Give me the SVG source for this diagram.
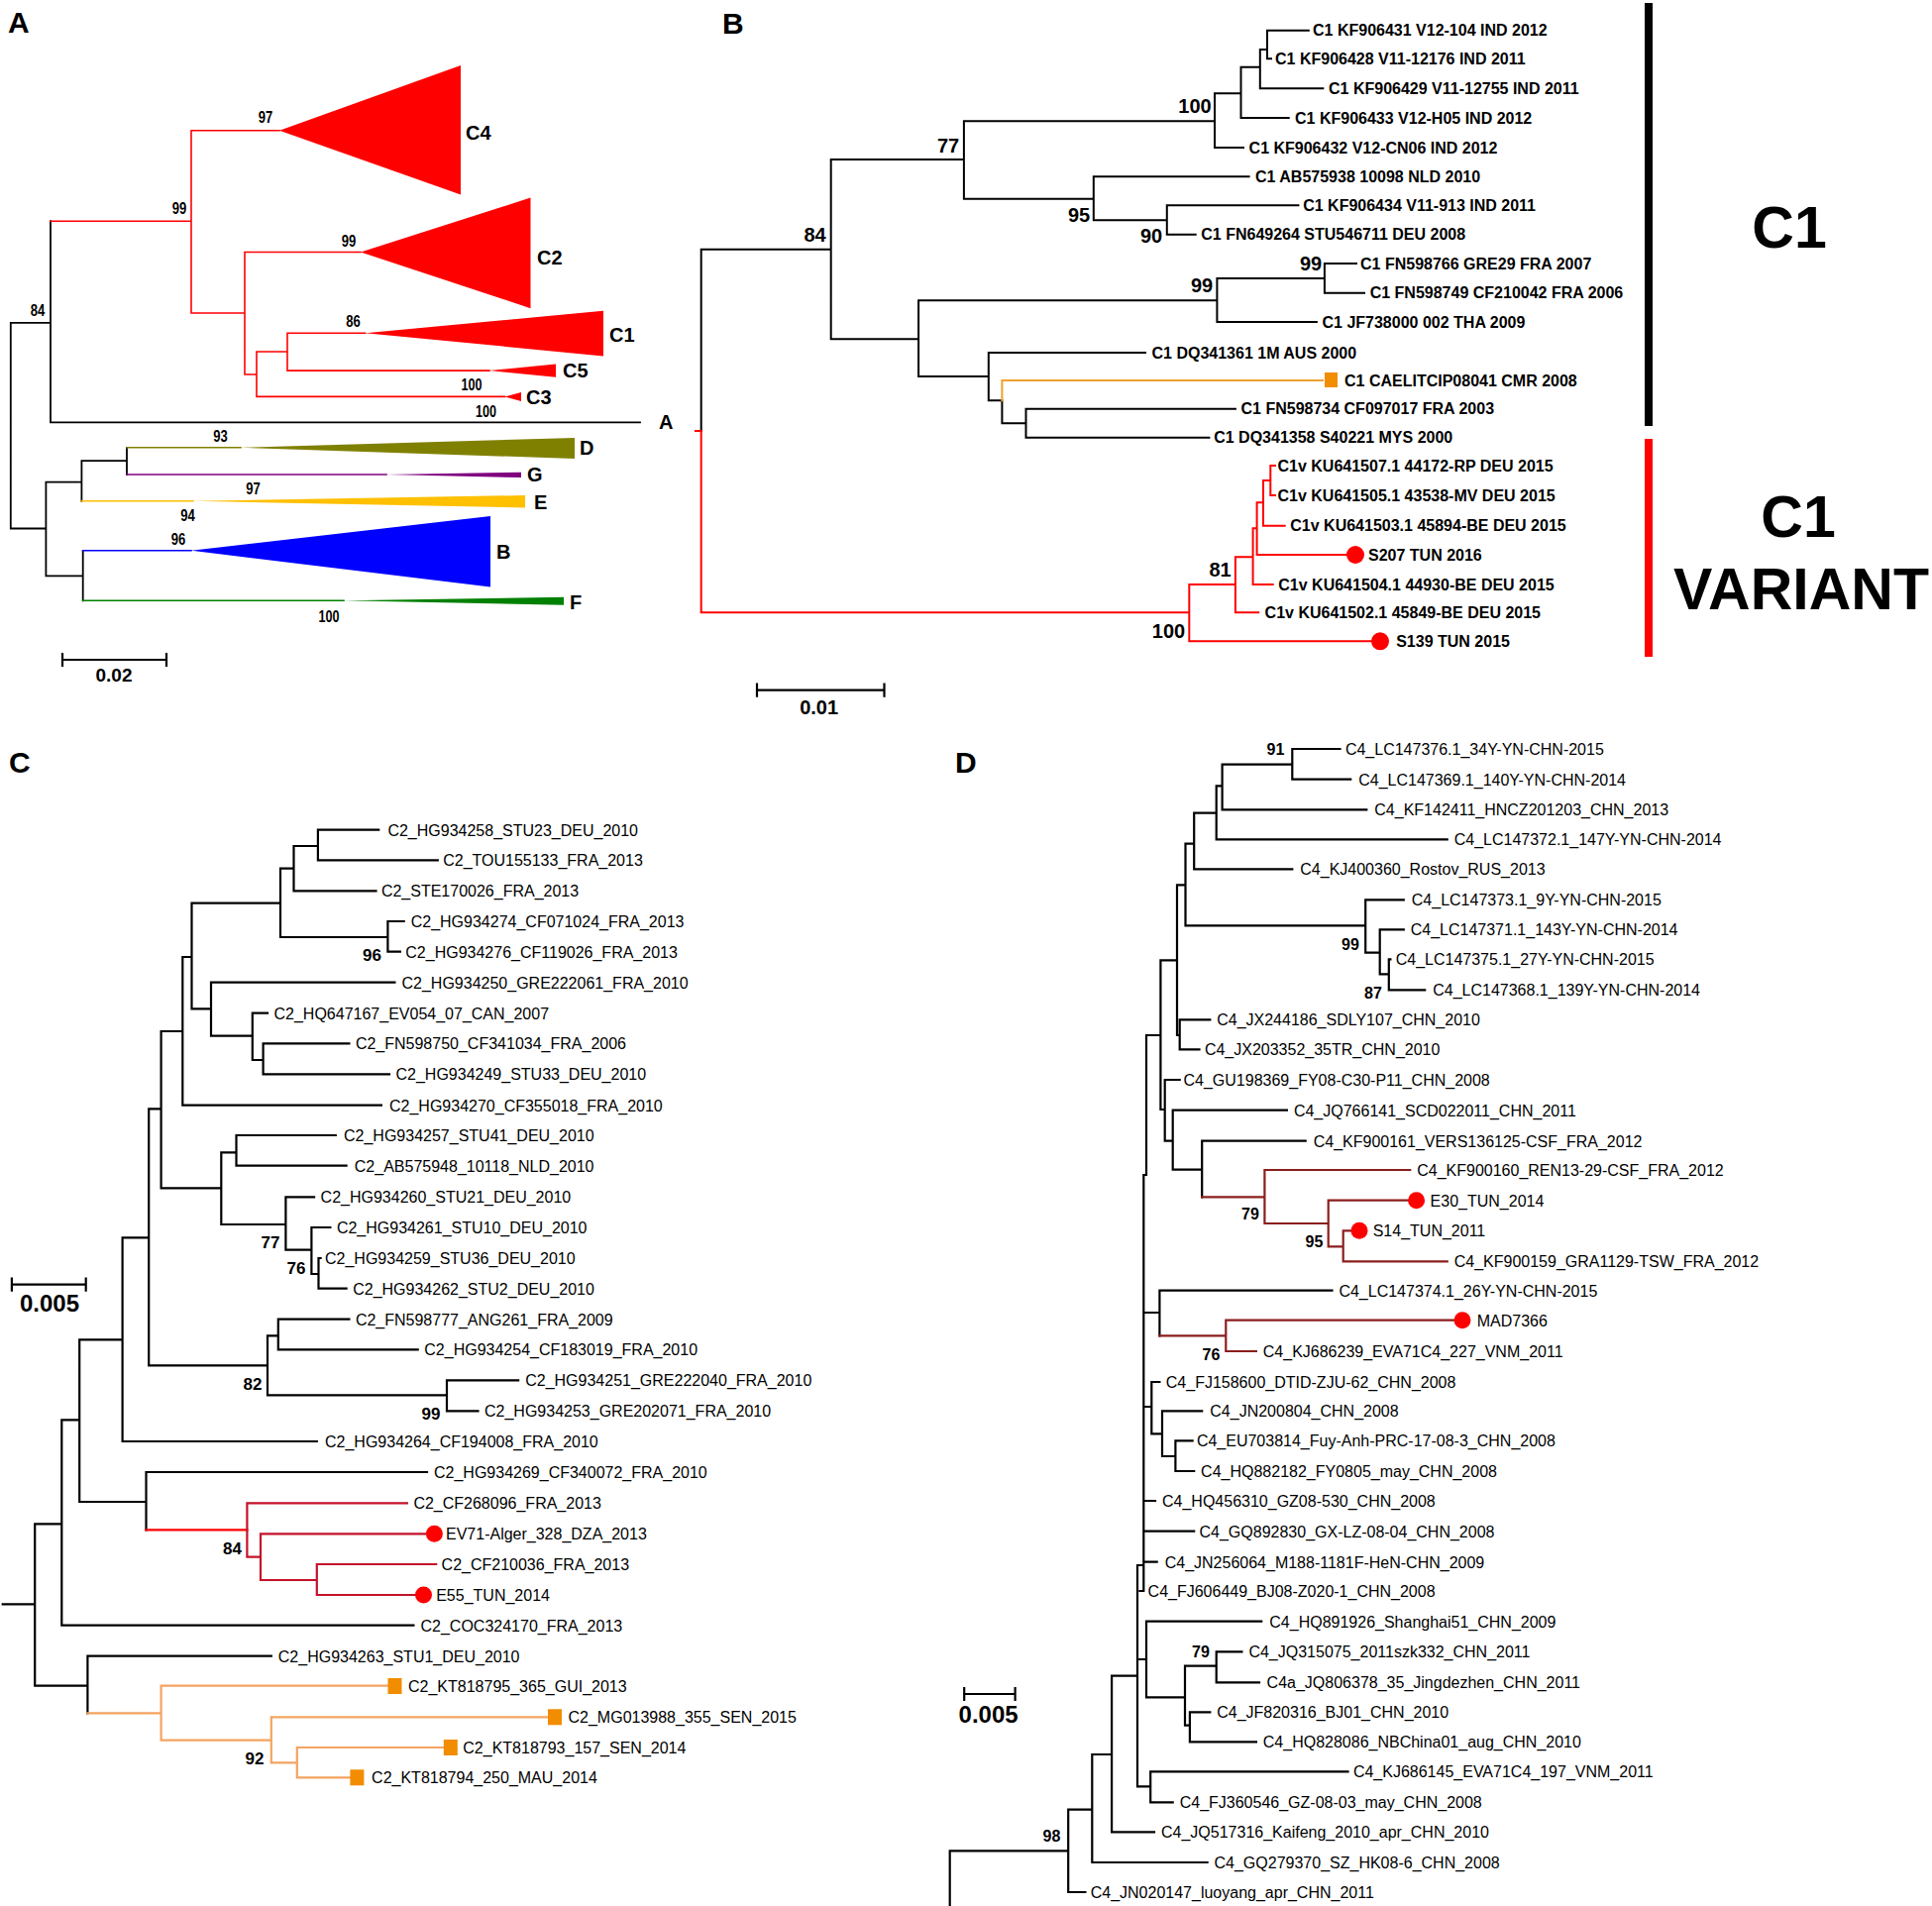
<svg xmlns="http://www.w3.org/2000/svg" width="1950" height="1924" viewBox="0 0 1950 1924">
<style>
text{font-family:"Liberation Sans",Arial,sans-serif;fill:#000}
.pl{font-size:30px;font-weight:bold}
.br{fill:none;stroke:#000;stroke-width:2.2;stroke-linecap:square}
.thin{stroke-width:1.8}
.bw{stroke-width:2}
.cl{font-size:20px;font-weight:bold}
.ba{font-size:16.5px;font-weight:bold;text-anchor:middle}
.bb{font-size:20px;font-weight:bold;text-anchor:middle}
.bc{font-size:17px;font-weight:bold;text-anchor:middle}
.bd{font-size:16px;font-weight:bold;text-anchor:middle}
.lb{font-size:16px;font-weight:bold}
.ln{font-size:16px}
.sc{font-weight:bold;text-anchor:middle}
.dot{fill:#FF0000}
.sq{fill:#F28C00}
.big{font-size:59px;font-weight:bold;text-anchor:middle}
</style>

<!-- ================= PANEL A ================= -->
<g id="panelA">
<text class="pl" x="8" y="33">A</text>
<g id="A-connectors">
<path class="br thin" d="M10.8,325.9V533.5M10.8,325.9H51M51,223.2V426.3M51,426.3H646M10.8,533.5H46.4M46.4,486.6V581.3M46.4,486.6H82.4M82.4,465.2V505.8M82.4,465.2H128M128,451.8V479M46.4,581.3H83.7M83.7,555.8V606.3"/>
<path class="br" style="stroke:#FF0000;stroke-width:1.6" d="M51,223.2H193M193,131.7V316M193,131.7H282M193,316H247M247,254.5V378M247,254.5H364M247,378H259M259,355V400.4M259,355H290M290,336.2V374.1M290,336.2H368.6M290,374.1H494M259,400.4H509.5"/>
<path class="br" style="stroke:#808000;stroke-width:1.6" d="M128,451.8H243"/>
<path class="br" style="stroke:#800080;stroke-width:1.6" d="M128,479H390"/>
<path class="br" style="stroke:#FFC000;stroke-width:1.6" d="M82.4,505.8H195"/>
<path class="br" style="stroke:#0000FF;stroke-width:1.6" d="M83.7,555.8H193"/>
<path class="br" style="stroke:#008000;stroke-width:1.6" d="M83.7,606.3H347"/>
</g>
<g id="A-C4"><polygon points="282,131.7 465,66 465,196.4" fill="#FF0000"/><text class="cl" x="470" y="141">C4</text></g>
<g id="A-C2"><polygon points="364,254.5 535.5,199.6 535.5,311.2" fill="#FF0000"/><text class="cl" x="542" y="267">C2</text></g>
<g id="A-C1"><polygon points="368.6,336.2 609,313.8 609,359.4" fill="#FF0000"/><text class="cl" x="615" y="345">C1</text></g>
<g id="A-C5"><polygon points="494,374.1 561,367.4 561,380.8" fill="#FF0000"/><text class="cl" x="568" y="381">C5</text></g>
<g id="A-C3"><polygon points="509.5,400.4 526,396 526,405" fill="#FF0000"/><text class="cl" x="531" y="408">C3</text></g>
<g id="A-A"><text class="cl" x="665" y="433">A</text></g>
<g id="A-D"><polygon points="243,451.8 580,442 580,463" fill="#808000"/><text class="cl" x="585" y="459">D</text></g>
<g id="A-G"><polygon points="390,479 526,476.8 526,482.1" fill="#800080"/><text class="cl" x="532" y="486">G</text></g>
<g id="A-E"><polygon points="195,505.8 530,500 530,512.5" fill="#FFC000"/><text class="cl" x="539" y="514">E</text></g>
<g id="A-B"><polygon points="193,555.8 495,521 495,592.4" fill="#0000FF"/><text class="cl" x="501" y="564">B</text></g>
<g id="A-F"><polygon points="347,606.3 569,602.7 569,610.7" fill="#008000"/><text class="cl" x="575" y="615">F</text></g>
<g id="A-bootstrap">
<text class="ba" x="38" y="318.5" textLength="14.5" lengthAdjust="spacingAndGlyphs">84</text>
<text class="ba" x="181" y="215.5" textLength="14.5" lengthAdjust="spacingAndGlyphs">99</text>
<text class="ba" x="268" y="124" textLength="14.5" lengthAdjust="spacingAndGlyphs">97</text>
<text class="ba" x="352" y="249" textLength="14.5" lengthAdjust="spacingAndGlyphs">99</text>
<text class="ba" x="356.5" y="329.5" textLength="14.5" lengthAdjust="spacingAndGlyphs">86</text>
<text class="ba" x="476" y="393.5" textLength="21" lengthAdjust="spacingAndGlyphs">100</text>
<text class="ba" x="490.5" y="421" textLength="21" lengthAdjust="spacingAndGlyphs">100</text>
<text class="ba" x="222.5" y="445.5" textLength="14.5" lengthAdjust="spacingAndGlyphs">93</text>
<text class="ba" x="255.5" y="499" textLength="14.5" lengthAdjust="spacingAndGlyphs">97</text>
<text class="ba" x="189.5" y="526" textLength="14.5" lengthAdjust="spacingAndGlyphs">94</text>
<text class="ba" x="180" y="549.5" textLength="14.5" lengthAdjust="spacingAndGlyphs">96</text>
<text class="ba" x="332" y="627.5" textLength="21" lengthAdjust="spacingAndGlyphs">100</text>
</g>
<g id="A-scale">
<path class="br" d="M63,666H168M63,660V672M168,660V672"/>
<text class="sc" x="115" y="688" font-size="19">0.02</text>
</g>
</g>

<!-- ================= PANEL B ================= -->
<g id="panelB">
<text class="pl" x="729" y="34">B</text>
<g id="B-connectors">
<path class="br bw" d="M707.7,251.7V435M707.7,251.7H838.7M838.7,161V342.3M838.7,161H972.9M972.9,122.3V200.7M972.9,122.3H1226M1226,94.3V149M1226,149H1255M1226,94.3H1252.5M1252.5,67.7V119M1252.5,119H1300.7M1252.5,67.7H1271.8M1271.8,50V89.3M1271.8,89.3H1335.3M1271.8,50H1279M1279,30.7V59.3M1279,30.7H1320.8M1279,59.3H1283M972.9,200.7H1103.8M1103.8,178.3V222.3M1103.8,178.3H1260.6M1103.8,222.3H1177.8M1177.8,207.3V236.7M1177.8,207.3H1310.4M1177.8,236.7H1206.7M838.7,342.3H927.1M927.1,303.3V380M927.1,303.3H1228.4M1228.4,281V325M1228.4,281H1336.9M1336.9,266V295.7M1336.9,266H1369M1336.9,295.7H1377M1228.4,325H1328.9M927.1,380H997.8M997.8,356V404.3M997.8,356H1156M997.8,404.3H1011.4M1011.4,404.3V427.3M1011.4,427.3H1035.5M1035.5,412.7V441.7M1035.5,412.7H1246.9M1035.5,441.7H1220.4"/>
<path class="br" style="stroke:#F0A030;stroke-width:2" d="M1011.4,404.3V384H1335"/>
<path class="br bw" style="stroke:#FF0000" d="M702,435H707.7M707.7,435V618.3H1200.3M1200.3,590V647.3M1200.3,647.3H1385M1200.3,590H1246.9M1246.9,562.3V618.3M1246.9,618.3H1270.2M1246.9,562.3H1264.6M1264.6,533.3V590M1264.6,590H1284.7M1264.6,533.3H1268.6M1268.6,507.3V560M1268.6,560H1359M1268.6,507.3H1275M1275,485V530.7M1275,530.7H1296.7M1275,485H1282.3M1282.3,470V500M1282.3,470H1287M1282.3,500H1287"/>
</g>
<g id="B-l1"><text class="lb" x="1325" y="36.4">C1 KF906431 V12-104 IND 2012</text></g>
<g id="B-l2"><text class="lb" x="1287" y="65">C1 KF906428 V11-12176 IND 2011</text></g>
<g id="B-l3"><text class="lb" x="1341" y="95">C1 KF906429 V11-12755 IND 2011</text></g>
<g id="B-l4"><text class="lb" x="1307" y="124.7">C1 KF906433 V12-H05 IND 2012</text></g>
<g id="B-l5"><text class="lb" x="1260.6" y="154.7">C1 KF906432 V12-CN06 IND 2012</text></g>
<g id="B-l6"><text class="lb" x="1267" y="184">C1 AB575938 10098 NLD 2010</text></g>
<g id="B-l7"><text class="lb" x="1315.2" y="213">C1 KF906434 V11-913 IND 2011</text></g>
<g id="B-l8"><text class="lb" x="1212.3" y="242.4">C1 FN649264 STU546711 DEU 2008</text></g>
<g id="B-l9"><text class="lb" x="1373" y="271.7">C1 FN598766 GRE29 FRA 2007</text></g>
<g id="B-l10"><text class="lb" x="1382.7" y="301.4">C1 FN598749 CF210042 FRA 2006</text></g>
<g id="B-l11"><text class="lb" x="1334.5" y="330.7">C1 JF738000 002 THA 2009</text></g>
<g id="B-l12"><text class="lb" x="1162.5" y="361.7">C1 DQ341361 1M AUS 2000</text></g>
<g id="B-l13"><rect class="sq" x="1337" y="376" width="13" height="15"/><text class="lb" x="1357" y="389.7">C1 CAELITCIP08041 CMR 2008</text></g>
<g id="B-l14"><text class="lb" x="1252.5" y="418.4">C1 FN598734 CF097017 FRA 2003</text></g>
<g id="B-l15"><text class="lb" x="1225.2" y="447.4">C1 DQ341358 S40221 MYS 2000</text></g>
<g id="B-l16"><text class="lb" x="1289.5" y="475.7">C1v KU641507.1 44172-RP DEU 2015</text></g>
<g id="B-l17"><text class="lb" x="1289.5" y="505.7">C1v KU641505.1 43538-MV DEU 2015</text></g>
<g id="B-l18"><text class="lb" x="1302.3" y="536.4">C1v KU641503.1 45894-BE DEU 2015</text></g>
<g id="B-l19"><circle class="dot" cx="1368" cy="560" r="9"/><text class="lb" x="1381" y="565.7">S207 TUN 2016</text></g>
<g id="B-l20"><text class="lb" x="1290.3" y="595.7">C1v KU641504.1 44930-BE DEU 2015</text></g>
<g id="B-l21"><text class="lb" x="1276.6" y="624">C1v KU641502.1 45849-BE DEU 2015</text></g>
<g id="B-l22"><circle class="dot" cx="1393" cy="647.3" r="9"/><text class="lb" x="1409.2" y="653">S139 TUN 2015</text></g>
<g id="B-bootstrap">
<text class="bb" x="822.5" y="243.7">84</text>
<text class="bb" x="957" y="153.7">77</text>
<text class="bb" x="1206" y="113.7">100</text>
<text class="bb" x="1089" y="223.7">95</text>
<text class="bb" x="1162" y="245.3">90</text>
<text class="bb" x="1213" y="295.3">99</text>
<text class="bb" x="1323" y="272.7">99</text>
<text class="bb" x="1231.5" y="582">81</text>
<text class="bb" x="1179.5" y="643.7">100</text>
</g>
<g id="B-group-C1"><path d="M1664,3V430" stroke="#000" stroke-width="8"/><text class="big" x="1806" y="250">C1</text></g>
<g id="B-group-C1v"><path d="M1664,443V663" stroke="#FF0000" stroke-width="8"/><text class="big" x="1815" y="541.7">C1</text><text class="big" x="1818" y="615">VARIANT</text></g>
<g id="B-scale">
<path class="br" d="M764,696.7H892.5M764,690.7V702.7M892.5,690.7V702.7"/>
<text class="sc" x="826.6" y="721" font-size="20">0.01</text>
</g>
</g>

<!-- ================= PANEL C ================= -->
<g id="panelC">
<text class="pl" x="9" y="780">C</text>
<g id="C-connectors">
<path class="br" d="M2.7,1619.3H35.2M35.2,1538.3V1701.7M35.2,1538.3H62.3M62.3,1433.3V1640.7M62.3,1640.7H417.4M62.3,1433.3H80.2M80.2,1352.3V1516M80.2,1352.3H123.6M123.6,1249.3V1455M123.6,1455H319.8M123.6,1249.3H150.2M150.2,1119.3V1378.3M150.2,1119.3H162.6M162.6,1041V1199.3M162.6,1041H184.3M184.3,966V1115.7M184.3,1115.7H384.9M184.3,966H193.5M193.5,911.7V1018.3M193.5,911.7H283M283,876.7V946M283,876.7H296.5M296.5,854V899.3M296.5,899.3H379.5M296.5,854H320.9M320.9,837.7V868.3M320.9,837.7H382.2M320.9,868.3H441.8M283,946H391.4M391.4,930V960.7M391.4,930H407.7M391.4,960.7H403.9M193.5,1018.3H213M213,991.7V1045.7M213,991.7H398.4M213,1045.7H254.8M254.8,1022.7V1070M254.8,1022.7H270M254.8,1070H265.6M265.6,1053.3V1084.3M265.6,1053.3H352.4M265.6,1084.3H393M162.6,1199.3H223.3M223.3,1163.3V1236M223.3,1163.3H238.5M238.5,1146V1176.7M238.5,1146H338.8M238.5,1176.7H349.6M223.3,1236H288.4M288.4,1208.3V1261.7M288.4,1208.3H317.1M288.4,1261.7H314.4M314.4,1239V1286M314.4,1239H333.4M314.4,1286H321.5M321.5,1270V1300.7M321.5,1270H323.6M321.5,1300.7H349.6M150.2,1378.3H270M270,1348.3V1408.3M270,1348.3H280.8M280.8,1331.7V1362.3M280.8,1331.7H352.4M280.8,1362.3H421.7M270,1408.3H451M451,1393.3V1424.3M451,1393.3H523.1M451,1424.3H482.5M80.2,1516H147.5M147.5,1486V1544.3M147.5,1486H431M35.2,1701.7H88.4M88.4,1671.7V1729.3M88.4,1671.7H273.8"/>
<path class="br" style="stroke:#FF0000" d="M147.5,1544.3H249.4"/>
<path class="br" style="stroke:#C4122A" d="M249.4,1517.3V1571.7M249.4,1517.3H410.9M249.4,1571.7H263M263,1548.3V1595M263,1548.3H430M263,1595H319.8M319.8,1579V1610M319.8,1579H440.2M319.8,1610H420"/>
<path class="br" style="stroke:#F4A460" d="M88.4,1729.3H162.6M162.6,1701.7V1756.7M162.6,1701.7H391M162.6,1756.7H273.8M273.8,1733.3V1779.3M273.8,1733.3H553M273.8,1779.3H299.8M299.8,1764V1794.3M299.8,1764H447M299.8,1794.3H353"/>
</g>
<g id="C-l1"><text class="ln" x="391.4" y="843.5">C2_HG934258_STU23_DEU_2010</text></g>
<g id="C-l2"><text class="ln" x="447.2" y="874.1">C2_TOU155133_FRA_2013</text></g>
<g id="C-l3"><text class="ln" x="384.9" y="905.1">C2_STE170026_FRA_2013</text></g>
<g id="C-l4"><text class="ln" x="414.7" y="935.8">C2_HG934274_CF071024_FRA_2013</text></g>
<g id="C-l5"><text class="ln" x="409.3" y="966.5">C2_HG934276_CF119026_FRA_2013</text></g>
<g id="C-l6"><text class="ln" x="405.5" y="997.5">C2_HG934250_GRE222061_FRA_2010</text></g>
<g id="C-l7"><text class="ln" x="276.5" y="1028.5">C2_HQ647167_EV054_07_CAN_2007</text></g>
<g id="C-l8"><text class="ln" x="358.9" y="1059.1">C2_FN598750_CF341034_FRA_2006</text></g>
<g id="C-l9"><text class="ln" x="399.5" y="1090.1">C2_HG934249_STU33_DEU_2010</text></g>
<g id="C-l10"><text class="ln" x="393" y="1121.5">C2_HG934270_CF355018_FRA_2010</text></g>
<g id="C-l11"><text class="ln" x="347" y="1151.8">C2_HG934257_STU41_DEU_2010</text></g>
<g id="C-l12"><text class="ln" x="357.8" y="1182.5">C2_AB575948_10118_NLD_2010</text></g>
<g id="C-l13"><text class="ln" x="323.6" y="1214.1">C2_HG934260_STU21_DEU_2010</text></g>
<g id="C-l14"><text class="ln" x="339.9" y="1244.8">C2_HG934261_STU10_DEU_2010</text></g>
<g id="C-l15"><text class="ln" x="328" y="1275.8">C2_HG934259_STU36_DEU_2010</text></g>
<g id="C-l16"><text class="ln" x="356.2" y="1306.5">C2_HG934262_STU2_DEU_2010</text></g>
<g id="C-l17"><text class="ln" x="358.9" y="1337.5">C2_FN598777_ANG261_FRA_2009</text></g>
<g id="C-l18"><text class="ln" x="428.3" y="1368.1">C2_HG934254_CF183019_FRA_2010</text></g>
<g id="C-l19"><text class="ln" x="530.2" y="1399.1">C2_HG934251_GRE222040_FRA_2010</text></g>
<g id="C-l20"><text class="ln" x="489" y="1430.1">C2_HG934253_GRE202071_FRA_2010</text></g>
<g id="C-l21"><text class="ln" x="328" y="1460.8">C2_HG934264_CF194008_FRA_2010</text></g>
<g id="C-l22"><text class="ln" x="438" y="1491.8">C2_HG934269_CF340072_FRA_2010</text></g>
<g id="C-l23"><text class="ln" x="417.4" y="1523.1">C2_CF268096_FRA_2013</text></g>
<g id="C-l24"><circle class="dot" cx="438.4" cy="1548.3" r="8.5"/><text class="ln" x="450" y="1554.1">EV71-Alger_328_DZA_2013</text></g>
<g id="C-l25"><text class="ln" x="445.6" y="1584.8">C2_CF210036_FRA_2013</text></g>
<g id="C-l26"><circle class="dot" cx="427.5" cy="1610" r="8.5"/><text class="ln" x="440.2" y="1615.8">E55_TUN_2014</text></g>
<g id="C-l27"><text class="ln" x="424.5" y="1646.5">C2_COC324170_FRA_2013</text></g>
<g id="C-l28"><text class="ln" x="280.8" y="1677.5">C2_HG934263_STU1_DEU_2010</text></g>
<g id="C-l29"><rect class="sq" x="391.5" y="1694" width="14" height="16"/><text class="ln" x="412" y="1707.5">C2_KT818795_365_GUI_2013</text></g>
<g id="C-l30"><rect class="sq" x="553" y="1725.3" width="14" height="16"/><text class="ln" x="573.5" y="1739.1">C2_MG013988_355_SEN_2015</text></g>
<g id="C-l31"><rect class="sq" x="447.8" y="1756" width="14" height="16"/><text class="ln" x="467.3" y="1769.8">C2_KT818793_157_SEN_2014</text></g>
<g id="C-l32"><rect class="sq" x="353.4" y="1786.3" width="14" height="16"/><text class="ln" x="375.1" y="1800.1">C2_KT818794_250_MAU_2014</text></g>
<g id="C-bootstrap">
<text class="bc" x="375.5" y="969.5">96</text>
<text class="bc" x="273" y="1259.5">77</text>
<text class="bc" x="299" y="1286">76</text>
<text class="bc" x="255" y="1403">82</text>
<text class="bc" x="435" y="1433">99</text>
<text class="bc" x="234.5" y="1569">84</text>
<text class="bc" x="257" y="1781">92</text>
</g>
<g id="C-scale">
<path class="br" d="M11.9,1296.7H86.7M11.9,1290.7V1302.7M86.7,1290.7V1302.7"/>
<text class="sc" x="50" y="1323.5" font-size="24">0.005</text>
</g>
</g>

<!-- ================= PANEL D ================= -->
<g id="panelD">
<text class="pl" x="964" y="780">D</text>
<g id="D-connectors">
<path class="br" d="M1304.3,756V786.7M1304.3,756H1352.5M1304.3,786.7H1363.2M1233.6,771.7H1304.3M1233.6,771.7V817.3M1233.6,817.3H1379.3M1227.7,793.3H1233.6M1227.7,793.3V847.3M1227.7,847.3H1460.7M1205.2,820.7H1227.7M1205.2,820.7V877.3M1205.2,877.3H1304.3M1196.5,851.7H1205.2M1196.5,851.7V934.3M1196.5,934.3H1378.2M1378.2,908.3V961.7M1378.2,908.3H1416.8M1378.2,961.7H1392.7M1392.7,938.3V983.3M1392.7,938.3H1416.8M1392.7,983.3H1401.8M1401.8,968.3V999.3M1401.8,968.3H1403.4M1401.8,999.3H1438.2M1188,893.3H1196.5M1188,893.3V1045M1188,1045H1190.7M1190.7,1029.3V1059.3M1190.7,1029.3H1221.3M1190.7,1059.3H1210.5M1171.4,969.3H1188M1171.4,969.3V1120M1171.4,1120H1175.7M1175.7,1090V1151.7M1175.7,1090H1190.7M1175.7,1151.7H1183.7M1183.7,1120.7V1180.7M1183.7,1120.7H1298.9M1183.7,1180.7H1213.2M1213.2,1151.7V1208.3M1213.2,1151.7H1317.7M1157,1045H1171.4M1157,1045V1186M1154.3,1186H1157M1154.3,1186V1606M1154.3,1325H1170.4M1170.4,1302.7V1348.3M1170.4,1302.7H1344.5M1154.3,1420H1162.3M1162.3,1395V1447.3M1162.3,1395H1170.4M1162.3,1447.3H1173M1173,1424.3V1470M1173,1424.3H1213.2M1173,1470H1186.4M1186.4,1454.3V1485M1186.4,1454.3H1203.6M1186.4,1485H1205.2M1154.3,1515H1166M1154.3,1545.7H1205.2M1154.3,1576.7H1167.7M1150.5,1606H1154.3M1148,1580H1154.3M1148,1675H1157M1157,1636.7V1713.3M1157,1636.7H1273.2M1157,1713.3H1196M1196,1681.7V1741.7M1196,1681.7H1227.7M1227.7,1667.3V1698.3M1227.7,1667.3H1253.4M1227.7,1698.3H1271M1196,1741.7H1200.9M1200.9,1728.3V1758.3M1200.9,1728.3H1221.3M1200.9,1758.3H1267.9M1148,1580V1803.3M1148,1803.3H1161.2M1161.2,1788.3V1819.3M1161.2,1788.3H1360.5M1161.2,1819.3H1183.7M1122.1,1691.7H1148M1122.1,1691.7V1849.3M1122.1,1849.3H1165M1102.3,1771H1122.1M1102.3,1771V1880M1102.3,1880H1218.6M1078.2,1826.7H1102.3M1078.2,1826.7V1910M1078.2,1910H1095.4M958.7,1868.3H1078.2M958.7,1868.3V1924"/>
<path class="br" style="stroke:#8B1E1E" d="M1213.2,1208.3H1276.4M1276.4,1181V1235M1276.4,1181H1423.2M1276.4,1235H1340.7M1340.7,1211.7V1258.3M1340.7,1211.7H1422M1340.7,1258.3H1355.7M1355.7,1242.3V1273.3M1355.7,1242.3H1365M1355.7,1273.3H1460.7M1170.4,1348.3H1237.3M1237.3,1332.7V1364M1237.3,1332.7H1468M1237.3,1364H1267.9"/>
</g>
<g id="D-l1"><text class="ln" x="1357.9" y="761.8">C4_LC147376.1_34Y-YN-CHN-2015</text></g>
<g id="D-l2"><text class="ln" x="1371.2" y="792.5">C4_LC147369.1_140Y-YN-CHN-2014</text></g>
<g id="D-l3"><text class="ln" x="1387.3" y="823.1">C4_KF142411_HNCZ201203_CHN_2013</text></g>
<g id="D-l4"><text class="ln" x="1467.7" y="853.1">C4_LC147372.1_147Y-YN-CHN-2014</text></g>
<g id="D-l5"><text class="ln" x="1312.3" y="883.1">C4_KJ400360_Rostov_RUS_2013</text></g>
<g id="D-l6"><text class="ln" x="1424.8" y="914.1">C4_LC147373.1_9Y-YN-CHN-2015</text></g>
<g id="D-l7"><text class="ln" x="1423.7" y="944.1">C4_LC147371.1_143Y-YN-CHN-2014</text></g>
<g id="D-l8"><text class="ln" x="1408.7" y="974.1">C4_LC147375.1_27Y-YN-CHN-2015</text></g>
<g id="D-l9"><text class="ln" x="1446.2" y="1005.1">C4_LC147368.1_139Y-YN-CHN-2014</text></g>
<g id="D-l10"><text class="ln" x="1228.2" y="1035.1">C4_JX244186_SDLY107_CHN_2010</text></g>
<g id="D-l11"><text class="ln" x="1215.9" y="1065.1">C4_JX203352_35TR_CHN_2010</text></g>
<g id="D-l12"><text class="ln" x="1194.5" y="1095.8">C4_GU198369_FY08-C30-P11_CHN_2008</text></g>
<g id="D-l13"><text class="ln" x="1305.9" y="1126.5">C4_JQ766141_SCD022011_CHN_2011</text></g>
<g id="D-l14"><text class="ln" x="1325.7" y="1157.5">C4_KF900161_VERS136125-CSF_FRA_2012</text></g>
<g id="D-l15"><text class="ln" x="1430.2" y="1186.8">C4_KF900160_REN13-29-CSF_FRA_2012</text></g>
<g id="D-l16"><circle class="dot" cx="1429.6" cy="1211.7" r="8.5"/><text class="ln" x="1443.6" y="1217.5">E30_TUN_2014</text></g>
<g id="D-l17"><circle class="dot" cx="1372" cy="1242.3" r="8.5"/><text class="ln" x="1385.7" y="1248.1">S14_TUN_2011</text></g>
<g id="D-l18"><text class="ln" x="1467.7" y="1279.1">C4_KF900159_GRA1129-TSW_FRA_2012</text></g>
<g id="D-l19"><text class="ln" x="1351.4" y="1308.5">C4_LC147374.1_26Y-YN-CHN-2015</text></g>
<g id="D-l20"><circle class="dot" cx="1476" cy="1332.7" r="8.5"/><text class="ln" x="1490.7" y="1338.5">MAD7366</text></g>
<g id="D-l21"><text class="ln" x="1274.8" y="1369.8">C4_KJ686239_EVA71C4_227_VNM_2011</text></g>
<g id="D-l22"><text class="ln" x="1176.8" y="1400.8">C4_FJ158600_DTID-ZJU-62_CHN_2008</text></g>
<g id="D-l23"><text class="ln" x="1221.3" y="1430.1">C4_JN200804_CHN_2008</text></g>
<g id="D-l24"><text class="ln" x="1207.9" y="1460.1">C4_EU703814_Fuy-Anh-PRC-17-08-3_CHN_2008</text></g>
<g id="D-l25"><text class="ln" x="1212.1" y="1490.8">C4_HQ882182_FY0805_may_CHN_2008</text></g>
<g id="D-l26"><text class="ln" x="1173" y="1520.8">C4_HQ456310_GZ08-530_CHN_2008</text></g>
<g id="D-l27"><text class="ln" x="1210.5" y="1551.5">C4_GQ892830_GX-LZ-08-04_CHN_2008</text></g>
<g id="D-l28"><text class="ln" x="1175.7" y="1582.5">C4_JN256064_M188-1181F-HeN-CHN_2009</text></g>
<g id="D-l29"><text class="ln" x="1158.6" y="1611.8">C4_FJ606449_BJ08-Z020-1_CHN_2008</text></g>
<g id="D-l30"><text class="ln" x="1281.3" y="1642.5">C4_HQ891926_Shanghai51_CHN_2009</text></g>
<g id="D-l31"><text class="ln" x="1260.4" y="1673.1">C4_JQ315075_2011szk332_CHN_2011</text></g>
<g id="D-l32"><text class="ln" x="1278.6" y="1704.1">C4a_JQ806378_35_Jingdezhen_CHN_2011</text></g>
<g id="D-l33"><text class="ln" x="1228.2" y="1734.1">C4_JF820316_BJ01_CHN_2010</text></g>
<g id="D-l34"><text class="ln" x="1274.8" y="1764.1">C4_HQ828086_NBChina01_aug_CHN_2010</text></g>
<g id="D-l35"><text class="ln" x="1365.9" y="1794.1">C4_KJ686145_EVA71C4_197_VNM_2011</text></g>
<g id="D-l36"><text class="ln" x="1190.7" y="1825.1">C4_FJ360546_GZ-08-03_may_CHN_2008</text></g>
<g id="D-l37"><text class="ln" x="1172" y="1855.1">C4_JQ517316_Kaifeng_2010_apr_CHN_2010</text></g>
<g id="D-l38"><text class="ln" x="1225.5" y="1885.8">C4_GQ279370_SZ_HK08-6_CHN_2008</text></g>
<g id="D-l39"><text class="ln" x="1100.7" y="1915.8">C4_JN020147_luoyang_apr_CHN_2011</text></g>
<g id="D-bootstrap">
<text class="bd" x="1287.5" y="762">91</text>
<text class="bd" x="1363" y="959">99</text>
<text class="bd" x="1386" y="1007.5">87</text>
<text class="bd" x="1262" y="1231">79</text>
<text class="bd" x="1326.5" y="1258.5">95</text>
<text class="bd" x="1222.5" y="1372.5">76</text>
<text class="bd" x="1212" y="1672.5">79</text>
<text class="bd" x="1061.4" y="1858.5">98</text>
</g>
<g id="D-scale">
<path class="br" d="M973.2,1710H1024.6M973.2,1704V1716M1024.6,1704V1716"/>
<text class="sc" x="997.6" y="1738.5" font-size="24">0.005</text>
</g>
</g>
</svg>
